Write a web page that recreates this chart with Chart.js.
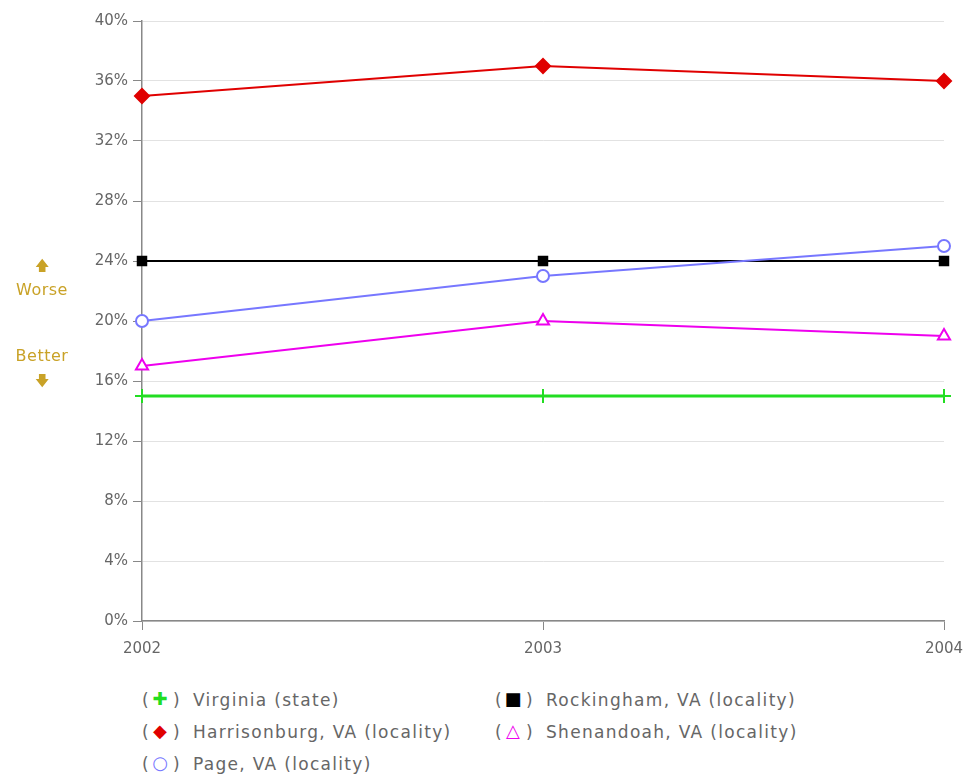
<!DOCTYPE html>
<html>
<head>
<meta charset="utf-8">
<script src="https://cdn.jsdelivr.net/npm/chart.js@4.4.1/dist/chart.umd.min.js"></script>
<style>
  body { margin: 0; background: #fff; font-family: "DejaVu Sans", sans-serif; }
  #wrap { position: relative; width: 972px; height: 779px; }
  #chart { position: absolute; left: 0; top: 0; }
  .side { position: absolute; color: #c9a227; font-size: 16px; width: 84px; text-align: center; left: 0; letter-spacing: 0.5px; }
  .arrow { font-size: 14px; }
  .legend { position: absolute; color: #666; font-size: 17px; white-space: nowrap; height: 24px; width: 340px; }
  .legend span { position: absolute; top: 0; }
  .legend .mk { width: 20px; text-align: center; font-size: 18px; line-height: 20px; top: -1px; }
  .legend .txt { letter-spacing: 1.3px; }
</style>
</head>
<body>
<div id="wrap">
  <canvas id="chart" width="972" height="680"></canvas>
  <div class="side arrow" style="top:255px;">&#129093;</div>
  <div class="side" style="top:280px;">Worse</div>
  <div class="side" style="top:346px;">Better</div>
  <div class="side arrow" style="top:370px;">&#129095;</div>
  <div id="legend"></div>
</div>
<script>
const years = ['2002', '2003', '2004'];
const virginia = [15, 15, 15];
const harrisonburg = [35, 37, 36];
const page = [20, 23, 25];
const rockingham = [24, 24, 24];
const shenandoah = [17, 20, 19];

const seriesNames = ['Virginia (state)', 'Harrisonburg, VA (locality)', 'Page, VA (locality)',
  'Rockingham, VA (locality)', 'Shenandoah, VA (locality)'];

const datasets = [
  { label: seriesNames[0], data: virginia, borderColor: '#22dd22', backgroundColor: '#22dd22',
    pointStyle: 'cross', pointRadius: 7, pointBorderWidth: 2, borderWidth: 3 },
  { label: seriesNames[1], data: harrisonburg, borderColor: '#e00000', backgroundColor: '#e00000',
    pointStyle: 'rectRot', pointRadius: 7 },
  { label: seriesNames[2], data: page, borderColor: '#7777ff', backgroundColor: '#ffffff',
    pointStyle: 'circle', pointRadius: 6, pointBorderWidth: 2 },
  { label: seriesNames[3], data: rockingham, borderColor: '#000000', backgroundColor: '#000000',
    pointStyle: 'rect', pointRadius: 6 },
  { label: seriesNames[4], data: shenandoah, borderColor: '#ee00ee', backgroundColor: '#ffffff',
    pointStyle: 'triangle', pointRadius: 7, pointBorderWidth: 2 }
];
datasets.forEach(d => { if (!d.borderWidth) d.borderWidth = 2; d.tension = 0; });

// wider letter spacing on the axis labels, like the original
const spacing = {
  id: 'spacing',
  beforeInit: c => { c.ctx.letterSpacing = '1.5px'; }
};

const ctx = document.getElementById('chart').getContext('2d');
const chart = new Chart(ctx, {
  type: 'line',
  data: { labels: years, datasets: datasets },
  plugins: [spacing],
  options: {
    responsive: false,
    animation: false,
    layout: { padding: { top: 21, right: 28, left: 0, bottom: 0 } },
    plugins: { legend: { display: false }, tooltip: { enabled: false } },
    scales: {
      x: {
        offset: false,
        grid: { drawOnChartArea: false, tickLength: 9, tickColor: '#888' },
        border: { color: '#888', width: 1.5 },
        ticks: { color: '#666', font: { family: 'DejaVu Sans', size: 15 }, padding: 10 },
        afterFit: s => { s.height = 59; s.paddingLeft = 0; s.paddingRight = 0; }
      },
      y: {
        min: 0, max: 40,
        grid: { color: '#e2e2e2', tickLength: 9, tickColor: '#888' },
        border: { color: '#888', width: 1.5 },
        ticks: { stepSize: 4, color: '#666', font: { family: 'DejaVu Sans', size: 15 },
          padding: 5, callback: v => v + '%' },
        afterFit: s => { s.width = 142; }
      }
    }
  }
});

// legend
const legendMarks = [
  { sym: '&#10010;', color: '#22dd22' },
  { sym: '&#9670;', color: '#e00000' },
  { sym: '&#9675;', color: '#7777ff' },
  { sym: '&#9632;', color: '#000000' },
  { sym: '&#9651;', color: '#ee00ee' }
];
const legendPos = [[142, 690], [142, 722], [142, 754], [495, 690], [495, 722]];
const legend = document.getElementById('legend');
seriesNames.forEach((name, i) => {
  const el = document.createElement('div');
  el.className = 'legend';
  el.style.left = legendPos[i][0] + 'px';
  el.style.top = legendPos[i][1] + 'px';
  el.innerHTML = '<span style="left:0">(</span>' +
    '<span class="mk" style="left:8px;color:' + legendMarks[i].color + '">' + legendMarks[i].sym + '</span>' +
    '<span style="left:31px">)</span>' +
    '<span class="txt" style="left:51px">' + name + '</span>';
  legend.appendChild(el);
});
</script>
</body>
</html>
